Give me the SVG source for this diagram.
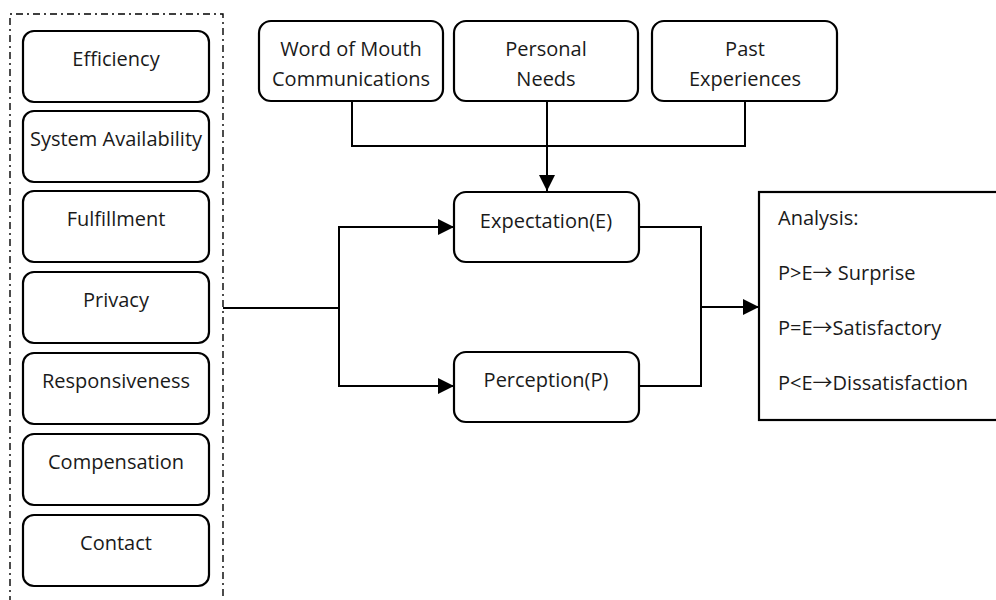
<svg xmlns="http://www.w3.org/2000/svg" width="996" height="600" viewBox="0 0 996 600">
<style>
.box{fill:#fff;stroke:#000;stroke-width:2.2}
.t{font-family:"Open Sans","Liberation Sans",sans-serif;font-size:20px;fill:#1a1a1a;text-anchor:middle}
.ta{font-family:"Open Sans","Liberation Sans",sans-serif;font-size:20px;fill:#1a1a1a}
.ar{font-family:"Noto Sans CJK SC","DejaVu Sans",sans-serif}
.ln{fill:none;stroke:#000;stroke-width:2}
</style>
<defs>
<marker id="ah" markerWidth="16" markerHeight="16" viewBox="0 0 16 16" refX="16" refY="8" orient="auto" markerUnits="userSpaceOnUse">
<path d="M0,0 L16,8 L0,16 Z" fill="#000"/>
</marker>
</defs>
<rect width="996" height="600" fill="#fff"/>
<g id="container">
<path d="M10,620 L10,14 L223,14 L223,620" fill="none" stroke="#000" stroke-width="1.4" stroke-dasharray="7 4 2 4"/>
</g>
<g id="efficiency"><rect class="box" x="23" y="31" width="186" height="71" rx="11"/><text class="t" x="116" y="66">Efficiency</text></g>
<g id="system-availability"><rect class="box" x="23" y="111" width="186" height="71" rx="11"/><text class="t" x="116" y="146">System Availability</text></g>
<g id="fulfillment"><rect class="box" x="23" y="191" width="186" height="71" rx="11"/><text class="t" x="116" y="226">Fulfillment</text></g>
<g id="privacy"><rect class="box" x="23" y="272" width="186" height="71" rx="11"/><text class="t" x="116" y="307">Privacy</text></g>
<g id="responsiveness"><rect class="box" x="23" y="353" width="186" height="71" rx="11"/><text class="t" x="116" y="388">Responsiveness</text></g>
<g id="compensation"><rect class="box" x="23" y="434" width="186" height="71" rx="11"/><text class="t" x="116" y="469">Compensation</text></g>
<g id="contact"><rect class="box" x="23" y="515" width="186" height="71" rx="11"/><text class="t" x="116" y="550">Contact</text></g>
<g id="word-of-mouth"><rect class="box" x="259" y="21" width="184" height="80" rx="12"/><text class="t" x="351" y="56">Word of Mouth</text><text class="t" x="351" y="86">Communications</text></g>
<g id="personal-needs"><rect class="box" x="454" y="21" width="184" height="80" rx="12"/><text class="t" x="546" y="56">Personal</text><text class="t" x="546" y="86">Needs</text></g>
<g id="past-experiences"><rect class="box" x="652" y="21" width="185" height="80" rx="12"/><text class="t" x="745" y="56">Past</text><text class="t" x="745" y="86">Experiences</text></g>
<g id="expectation"><rect class="box" x="454" y="192" width="185" height="70" rx="12"/><text class="t" x="546" y="228">Expectation(E)</text></g>
<g id="perception"><rect class="box" x="454" y="352" width="185" height="70" rx="12"/><text class="t" x="546" y="387">Perception(P)</text></g>
<g id="analysis"><rect x="759" y="192" width="260" height="228" fill="#fff" stroke="#000" stroke-width="2.2"/>
<text class="ta" x="778" y="225">Analysis:</text>
<text class="ta" x="778" y="280">P&gt;E<tspan class="ar">→</tspan> Surprise</text>
<text class="ta" x="778" y="335">P=E<tspan class="ar">→</tspan>Satisfactory</text>
<text class="ta" x="778" y="390">P&lt;E<tspan class="ar">→</tspan>Dissatisfaction</text>
</g>
<g id="connectors">
<path class="ln" d="M352,101 V146 H745 V101"/>
<path class="ln" d="M547,101 V191" stroke-width="2.5" marker-end="url(#ah)"/>
<path class="ln" d="M223,308 H339"/>
<path class="ln" d="M339,308 V227 H454" marker-end="url(#ah)"/>
<path class="ln" d="M339,308 V386 H454" marker-end="url(#ah)"/>
<path class="ln" d="M639,227 H701 V386 H639"/>
<path class="ln" d="M701,307 H759" stroke-width="2.5" marker-end="url(#ah)"/>
</g>
</svg>
